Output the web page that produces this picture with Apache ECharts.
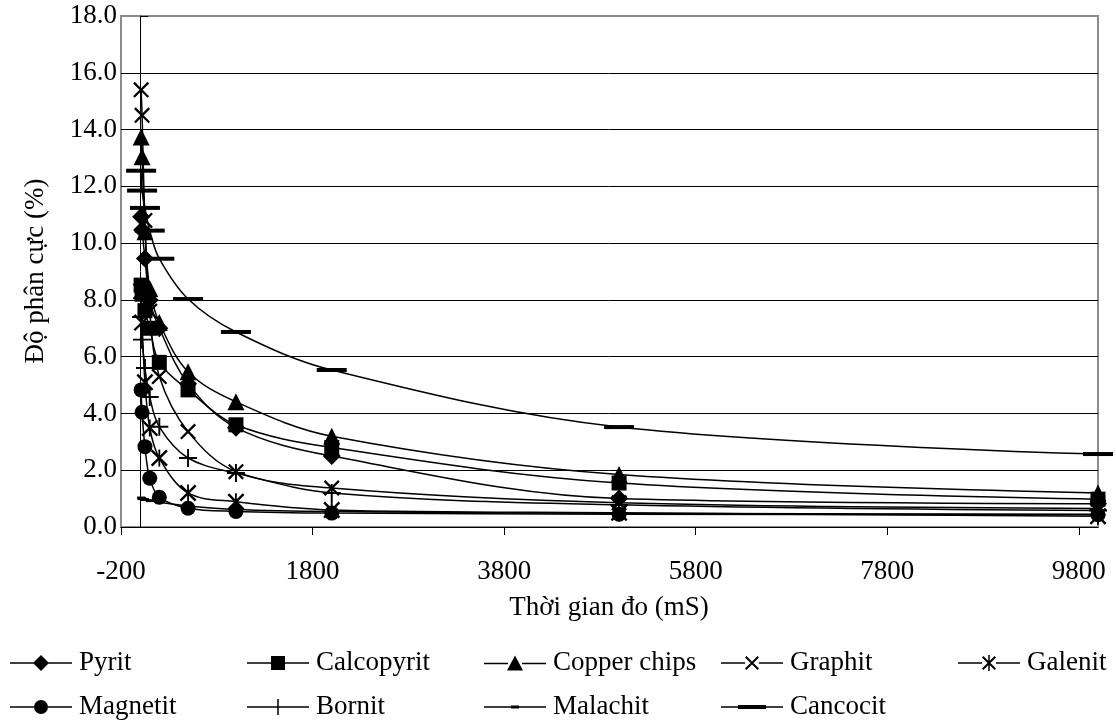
<!DOCTYPE html>
<html>
<head>
<meta charset="utf-8">
<script src="https://cdn.jsdelivr.net/npm/echarts@6/dist/echarts.min.js"></script>
<style>
html,body{margin:0;padding:0;background:#fff;}
#chart{width:1116px;height:722px;}
</style>
</head>
<body>
<div id="chart"></div>
<script>
// ---- data ----
const xValues     = [10, 20, 50, 100, 200, 500, 1000, 2000, 5000, 10000];
const pyrit       = [10.93, 10.46, 9.46, 8.0, 7.0, 5.05, 3.5, 2.5, 1.0, 0.82];
const calcopyrit  = [8.52, 8.2, 7.62, 7.0, 5.8, 4.83, 3.6, 2.8, 1.55, 0.98];
const copperChips = [13.74, 13.04, 10.4, 8.4, 7.2, 5.47, 4.41, 3.2, 1.85, 1.2];
const graphit     = [15.4, 14.5, 10.8, 7.6, 5.3, 3.36, 1.95, 1.37, 0.85, 0.65];
const galenit     = [8.3, 7.2, 5.1, 3.49, 2.43, 1.2, 0.89, 0.6, 0.5, 0.38];
const magnetit    = [4.83, 4.04, 2.83, 1.72, 1.05, 0.66, 0.55, 0.49, 0.45, 0.43];
const bornit      = [7.4, 6.6, 5.6, 4.58, 3.53, 2.43, 1.9, 1.2, 0.78, 0.58];
const malachit    = [1.02, 1.0, 0.97, 0.93, 0.87, 0.74, 0.62, 0.55, 0.48, 0.45];
const cancocit    = [12.55, 11.85, 11.24, 10.44, 9.45, 8.03, 6.87, 5.53, 3.52, 2.57];
const seriesNames = ['Pyrit', 'Calcopyrit', 'Copper chips', 'Graphit', 'Galenit',
                     'Magnetit', 'Bornit', 'Malachit', 'Cancocit'];
const xTickLabels = [-200, 1800, 3800, 5800, 7800, 9800];
const xTitle = 'Thời gian đo (mS)';
const yTitle = 'Độ phân cực (%)';

// ---- styling ----
const FONT = 'Liberation Serif';
const FS = 27;
const P_X = 'path://M0,1.4 L1.4,0 L14,12.6 L12.6,14 Z M12.6,0 L14,1.4 L1.4,14 L0,12.6 Z';
const P_AST = 'path://M0,1.4 L1.4,0 L14,12.6 L12.6,14 Z M12.6,0 L14,1.4 L1.4,14 L0,12.6 Z M6.25,0 H7.75 V14 H6.25 Z';
const P_PLUS = 'path://M6.25,0 H7.75 V14 H6.25 Z M0,6.25 H14 V7.75 H0 Z';

const LINE_L = 'M0,7.25 H24 V8.75 H0 Z M38,7.25 H62 V8.75 H38 Z ';
const LINE_F = 'M0,7.25 H62 V8.75 H0 Z ';
const legendIcons = [
  'path://' + LINE_L + 'M31,0 L39,8 L31,16 L23,8 Z',
  'path://' + LINE_L + 'M24,1 H38 V15 H24 Z',
  'path://' + LINE_L + 'M31,0 L39,15 L23,15 Z',
  'path://' + LINE_L + 'M24,2.4 L25.4,1 L38,13.6 L36.6,15 Z M36.6,1 L38,2.4 L25.4,15 L24,13.6 Z',
  'path://' + LINE_L + 'M24,2.4 L25.4,1 L38,13.6 L36.6,15 Z M36.6,1 L38,2.4 L25.4,15 L24,13.6 Z M30.25,0 H31.75 V16 H30.25 Z',
  'path://' + LINE_L + 'M24,8 A7,7 0 1 1 38,8 A7,7 0 1 1 24,8 Z',
  'path://' + LINE_F + 'M30.25,0 H31.75 V16 H30.25 Z',
  'path://' + LINE_F + 'M27,6.5 H35 V9.5 H27 Z',
  'path://' + LINE_F + 'M17,6 H45 V10 H17 Z'
];
const symbols = ['diamond', 'rect', 'triangle', P_X, P_AST, 'circle', P_PLUS, 'rect', 'rect'];
const symbolSizes = [18, 15, 17, 16, 17, 15, 18, [8, 3], [30, 4]];
const values = [pyrit, calcopyrit, copperChips, graphit, galenit, magnetit, bornit, malachit, cancocit];

const series = seriesNames.map((name, k) => ({
  name: name,
  type: 'line',
  xAxisIndex: 0,
  yAxisIndex: 0,
  data: xValues.map((x, i) => [x, values[k][i]]),
  smooth: 0.35,
  symbol: symbols[k],
  symbolSize: symbolSizes[k],
  showAllSymbol: true,
  lineStyle: { color: '#000', width: 1.5 },
  itemStyle: { color: '#000' },
  emphasis: { disabled: true }
}));

const colLeft = [10, 247, 484, 721, 958];
const rowTop = [649, 693];
const legends = seriesNames.map((name, k) => ({
  data: [{ name: name, icon: legendIcons[k] }],
  left: colLeft[k % 5],
  top: rowTop[Math.floor(k / 5)],
  padding: 0,
  itemWidth: 62,
  itemHeight: 16,
  symbolKeepAspect: true,
  selectedMode: false,
  itemStyle: { color: '#000', borderWidth: 0 },
  textStyle: { fontFamily: FONT, fontSize: FS, color: '#000', padding: [0, 0, 0, 2], lineHeight: 28 }
}));

const chart = echarts.init(document.getElementById('chart'), null, { renderer: 'canvas' });
chart.setOption({
  animation: false,
  backgroundColor: '#fff',
  grid: {
    left: 121, right: 18, top: 16, bottom: 195,
    show: true, borderColor: '#8c8c8c', borderWidth: 2, backgroundColor: 'transparent'
  },
  xAxis: {
    type: 'value', min: -200, max: 10000, interval: 2000,
    axisLine: { onZero: false, lineStyle: { color: '#000', width: 1 } },
    axisTick: { show: true, length: 8, customValues: xTickLabels, lineStyle: { color: '#000' } },
    axisLabel: { customValues: xTickLabels, margin: 31, fontFamily: FONT, fontSize: FS, color: '#000',
                 formatter: v => String(v) },
    splitLine: { show: false }
  },
  yAxis: [{
    type: 'value', min: 0, max: 18, interval: 2,
    axisLine: { show: false, onZero: false },
    axisTick: { show: false },
    axisLabel: { margin: 4, fontFamily: FONT, fontSize: FS, color: '#000',
                 formatter: v => v.toFixed(1) },
    splitLine: { show: true, showMinLine: false, showMaxLine: false, lineStyle: { color: '#000', width: 1 } }
  }, {
    type: 'value', min: 0, max: 18, interval: 2,
    axisLine: { show: true, onZero: true, onZeroAxisIndex: 0, lineStyle: { color: '#000', width: 1 } },
    axisTick: { show: true, length: 8, lineStyle: { color: '#000' } },
    axisLabel: { show: false },
    splitLine: { show: false }
  }],
  legend: legends,
  graphic: [
    { type: 'text', x: 609, y: 608, z: 10,
      style: { text: xTitle, fontFamily: FONT, fontSize: FS, fill: '#000', align: 'center', verticalAlign: 'middle' } },
    { type: 'text', x: 36, y: 271, rotation: Math.PI / 2, z: 10,
      style: { text: yTitle, fontFamily: FONT, fontSize: FS, fill: '#000', align: 'center', verticalAlign: 'middle' } }
  ],
  series: series
});
</script>
</body>
</html>
